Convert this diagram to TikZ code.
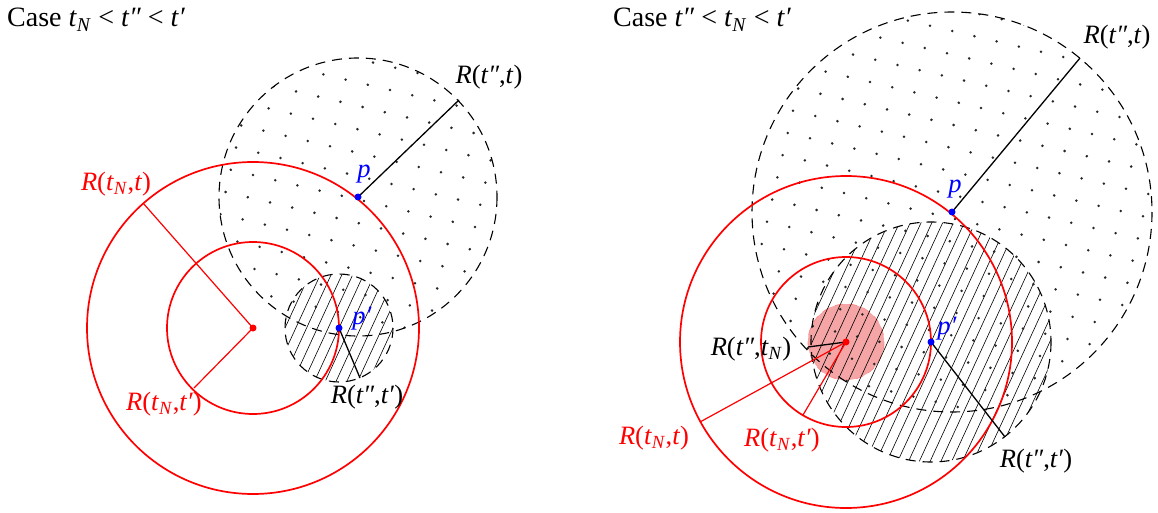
\documentclass[tikz,border=0pt]{standalone}
\usepackage{fontspec}
\setmainfont{Liberation Serif}
\usetikzlibrary{calc}
\newcommand{\myR}{\textit{R}}
\newcommand{\myt}{\textit{t}}
\newcommand{\mytN}{\textit{t}\textsubscript{\textit{N}}}
\newcommand{\mytpp}{\textit{t″}}
\newcommand{\mytp}{\textit{t′}}
\definecolor{pinkfill}{RGB}{245,165,165}
\tikzset{
  redc/.style={draw=red, line width=1.7},
  redl/.style={draw=red, line width=1.2},
  dashc/.style={draw=black, line width=1.1, dash pattern=on 10pt off 7pt},
  radl/.style={draw=black, line width=1.3},
  hatchl/.style={draw=black, line width=0.6},
  dotf/.style={fill=black!85},
  lbl/.style={font=\fontsize{26.5}{30}\selectfont, inner sep=0pt},
  caselbl/.style={font=\fontsize{28}{32}\selectfont, inner sep=0pt},
  rlbl/.style={lbl, text=red},
  blbl/.style={lbl, text=blue},
}
\begin{document}
\begin{tikzpicture}[x=1pt,y=-1pt]
\useasboundingbox (0,0) rectangle (1158,513);
% ---------- left panel ----------
\coordinate (C1) at (253,328);
\coordinate (P1) at (358,197);
\coordinate (Q1) at (339,328);
\coordinate (A1) at (143,203);
\coordinate (B1) at (194,388);
\coordinate (E1) at (459,100);
\coordinate (F1) at (360,378);
% hatch
\begin{scope}
\clip (Q1) circle[radius=54];
\foreach \k in {-10,...,10}{
  \draw[hatchl] ($(Q1)+(\k*10.8+0.46*70,-70)$) -- ($(Q1)+(\k*10.8-0.46*70,70)$);
}
\end{scope}
% dots
\begin{scope}
\clip (P1) circle[radius=139];
\foreach \i in {-8,...,8}{\foreach \j in {-8,...,8}{
  \fill[dotf] ($(P1)+(\i*22.2-\j*5.2+6,\i*5.2+\j*22.2+4)$) circle[radius=1.4];
}}
\end{scope}
\draw[dashc] (P1) circle[radius=139];
\draw[dashc] (Q1) circle[radius=54];
\draw[redc] (C1) circle[radius=166];
\draw[redc] (C1) circle[radius=86];
\draw[redl] (C1) -- (A1);
\draw[redl] (C1) -- (B1);
\draw[radl] (P1) -- (E1);
\draw[radl] (Q1) -- (F1);
\fill[red] (C1) circle[radius=3.5];
\fill[blue] (P1) circle[radius=3.5];
\fill[blue] (Q1) circle[radius=3.5];
\node[caselbl, anchor=base west] (case1) at (7,27) {Case \mytN{} < \mytpp{} < \mytp};
\node[rlbl] (lA1) at (116,184) {\myR(\mytN,\myt)};
\node[rlbl] (lB1) at (164,404) {\myR(\mytN,\mytp)};
\node[lbl] (lF1) at (367,397) {\myR(\mytpp,\mytp)};
\node[lbl] (lE1) at (489,77) {\myR(\mytpp,\myt)};
\node[blbl] (lP1) at (364,174) {\textit{p}};
\node[blbl] (lQ1) at (362,319) {\textit{p′}};
% ---------- right panel ----------
\coordinate (C2) at (846,342);
\coordinate (P2) at (952,212);
\coordinate (Q2) at (931,342);
\coordinate (A2) at (700,422);
\coordinate (B2) at (803,415);
\coordinate (G2) at (808,347);
\coordinate (E2) at (1080,58);
\coordinate (F2) at (1005,437);
\fill[pinkfill] (C2) circle[radius=38];
\draw[red!45, line width=0.8, dash pattern=on 8pt off 6pt] (C2) circle[radius=38];
\begin{scope}
\clip (Q2) circle[radius=120];
\foreach \k in {-19,...,19}{
  \draw[hatchl] ($(Q2)+(\k*10.8+0.46*140,-140)$) -- ($(Q2)+(\k*10.8-0.46*140,140)$);
}
\end{scope}
\begin{scope}
\clip (P2) circle[radius=200];
\foreach \i in {-11,...,11}{\foreach \j in {-11,...,11}{
  \fill[dotf] ($(P2)+(\i*22.2-\j*5.2+3,\i*5.2+\j*22.2+7)$) circle[radius=1.4];
}}
\end{scope}
\draw[dashc] (P2) circle[radius=200];
\draw[dashc] (Q2) circle[radius=120];
\draw[redc] (C2) circle[radius=166];
\draw[redc] (C2) circle[radius=85];
\draw[redl] (C2) -- (A2);
\draw[redl] (C2) -- (B2);
\draw[radl] (C2) -- (G2);
\draw[radl] (P2) -- (E2);
\draw[radl] (Q2) -- (F2);
\fill[red] (C2) circle[radius=3.5];
\fill[blue] (P2) circle[radius=3.5];
\fill[blue] (Q2) circle[radius=3.5];
\node[caselbl, anchor=base west] (case2) at (613,27) {Case \mytpp{} < \mytN{} < \mytp};
\node[lbl] (lE2) at (1117,37) {\myR(\mytpp,\myt)};
\node[blbl] (lP2) at (955,189) {\textit{p}};
\node[blbl] (lQ2) at (947,329) {\textit{p′}};
\node[lbl] (lF2) at (1036,461) {\myR(\mytpp,\mytp)};
\node[lbl] (lG2) at (751,349) {\myR(\mytpp,\mytN)};
\node[rlbl] (lA2) at (654,438) {\myR(\mytN,\myt)};
\node[rlbl] (lB2) at (782,440) {\myR(\mytN,\mytp)};
\end{tikzpicture}
\end{document}
